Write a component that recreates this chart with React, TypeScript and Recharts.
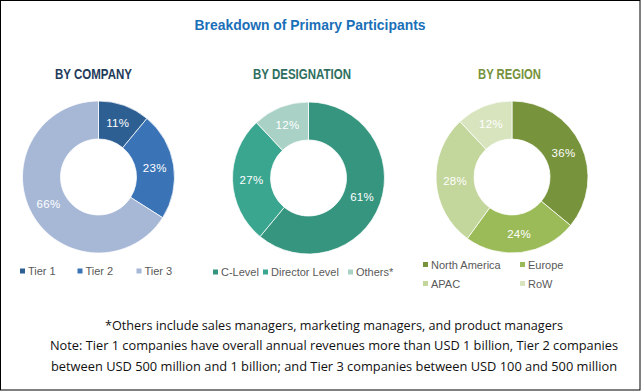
import React from "react";
import { PieChart, Pie, Cell } from "recharts";

const companyNames = ["Tier 1", "Tier 2", "Tier 3"];
const companyValues = [11, 23, 66];
const companyColors = ["#2e5f93", "#3a74b6", "#a7b8d6"];

const designationNames = ["C-Level", "Director Level", "Others*"];
const designationValues = [61, 27, 12];
const designationColors = ["#36957f", "#3aa690", "#a9d1c5"];

const regionNames = ["North America", "Europe", "APAC", "RoW"];
const regionValues = [36, 24, 28, 12];
const regionColors = ["#77933c", "#9bbb59", "#c3d69b", "#d7e4bd"];

const title = "Breakdown of Primary Participants";
const headers = ["BY COMPANY", "BY DESIGNATION", "BY REGION"];
const notes = [
  "*Others include sales managers, marketing managers, and product managers",
  "Note: Tier 1 companies have overall annual revenues more than USD 1 billion, Tier 2 companies",
  "between USD 500 million and 1 billion; and Tier 3 companies between USD 100 and 500 million",
];

const toData = (names: string[], values: number[]) =>
  names.map((name, i) => ({ name, value: values[i] }));

const companyData = toData(companyNames, companyValues);
const designationData = toData(designationNames, designationValues);
const regionData = toData(regionNames, regionValues);

const RADIAN = Math.PI / 180;
const LABEL_FONT = "'Liberation Sans', Arial, sans-serif";

const renderLabel = (props: any) => {
  const { cx, cy, midAngle, innerRadius, outerRadius, value } = props;
  const r = (innerRadius + outerRadius) / 2;
  const x = cx + r * Math.cos(-midAngle * RADIAN);
  const y = cy + r * Math.sin(-midAngle * RADIAN);
  return (
    <text
      x={x}
      y={y}
      fill="#ffffff"
      textAnchor="middle"
      dominantBaseline="central"
      fontFamily={LABEL_FONT}
      fontSize={11.5}
      letterSpacing={0.3}
    >
      {`${value}%`}
    </text>
  );
};

type LegendItem = { name: string; color: string; x: number; y: number };

const legendItems: LegendItem[] = [
  { name: companyNames[0], color: companyColors[0], x: 20, y: 271 },
  { name: companyNames[1], color: companyColors[1], x: 77.5, y: 271 },
  { name: companyNames[2], color: companyColors[2], x: 136.5, y: 271 },
  { name: designationNames[0], color: designationColors[0], x: 213, y: 272 },
  { name: designationNames[1], color: designationColors[1], x: 263, y: 272 },
  { name: designationNames[2], color: designationColors[2], x: 348, y: 272 },
  { name: regionNames[0], color: regionColors[0], x: 423, y: 264.5 },
  { name: regionNames[1], color: regionColors[1], x: 520, y: 264.5 },
  { name: regionNames[2], color: regionColors[2], x: 423, y: 283.5 },
  { name: regionNames[3], color: regionColors[3], x: 520, y: 283.5 },
];

export default function App() {
  const pieCommon = {
    dataKey: "value",
    startAngle: 90,
    endAngle: -270,
    innerRadius: 38,
    outerRadius: 76,
    isAnimationActive: false,
    labelLine: false,
    label: renderLabel,
    stroke: "#ffffff",
    strokeWidth: 0.75,
  } as const;

  return (
    <div
      style={{
        position: "absolute",
        left: 0,
        top: 0,
        width: 641,
        height: 391,
        background: "#ffffff",
      }}
    >
      <PieChart width={641} height={391} margin={{ top: 0, right: 0, bottom: 0, left: 0 }}>
        <Pie {...pieCommon} data={companyData} cx={98.5} cy={177}>
          {companyData.map((d, i) => (
            <Cell key={d.name} fill={companyColors[i]} />
          ))}
        </Pie>
        <Pie {...pieCommon} data={designationData} cx={308.5} cy={178}>
          {designationData.map((d, i) => (
            <Cell key={d.name} fill={designationColors[i]} />
          ))}
        </Pie>
        <Pie {...pieCommon} data={regionData} cx={512} cy={177}>
          {regionData.map((d, i) => (
            <Cell key={d.name} fill={regionColors[i]} />
          ))}
        </Pie>
      </PieChart>
      <svg
        width={641}
        height={391}
        style={{ position: "absolute", left: 0, top: 0, pointerEvents: "none" }}
      >
        <rect x={0.5} y={0.5} width={639.5} height={389.5} fill="none" stroke="#000000" strokeWidth={1} />
        <text
          x={310}
          y={30}
          textAnchor="middle"
          fill="#1a70b8"
          fontFamily="'Liberation Sans Narrow', 'Liberation Sans', Arial, sans-serif"
          fontWeight="bold"
          fontSize={15}
          textLength={231}
          lengthAdjust="spacingAndGlyphs"
        >
          {title}
        </text>
        {[
          { t: headers[0], x: 93.5, w: 77, c: "#1f3b5c" },
          { t: headers[1], x: 302, w: 98, c: "#2e6e5f" },
          { t: headers[2], x: 509.5, w: 63, c: "#76923c" },
        ].map((h) => (
          <text
            key={h.t}
            x={h.x}
            y={79}
            textAnchor="middle"
            fill={h.c}
            fontFamily="'Liberation Sans Narrow', 'Liberation Sans', Arial, sans-serif"
            fontWeight="bold"
            fontSize={14}
            textLength={h.w}
            lengthAdjust="spacingAndGlyphs"
          >
            {h.t}
          </text>
        ))}
        {legendItems.map((it) => (
          <g key={it.name}>
            <rect x={it.x} y={it.y - 2.5} width={5} height={5} fill={it.color} />
            <text
              x={it.x + 8}
              y={it.y + 4}
              fill="#595959"
              fontFamily={LABEL_FONT}
              fontSize={11}
            >
              {it.name}
            </text>
          </g>
        ))}
        {[
          { t: notes[0], y: 330, w: 458 },
          { t: notes[1], y: 350, w: 568 },
          { t: notes[2], y: 371, w: 566 },
        ].map((n) => (
          <text
            key={n.t}
            x={334}
            y={n.y}
            textAnchor="middle"
            fill="#111111"
            fontFamily="'Open Sans', 'Liberation Sans', sans-serif"
            fontSize={13}
            textLength={n.w}
            lengthAdjust="spacingAndGlyphs"
          >
            {n.t}
          </text>
        ))}
      </svg>
    </div>
  );
}
